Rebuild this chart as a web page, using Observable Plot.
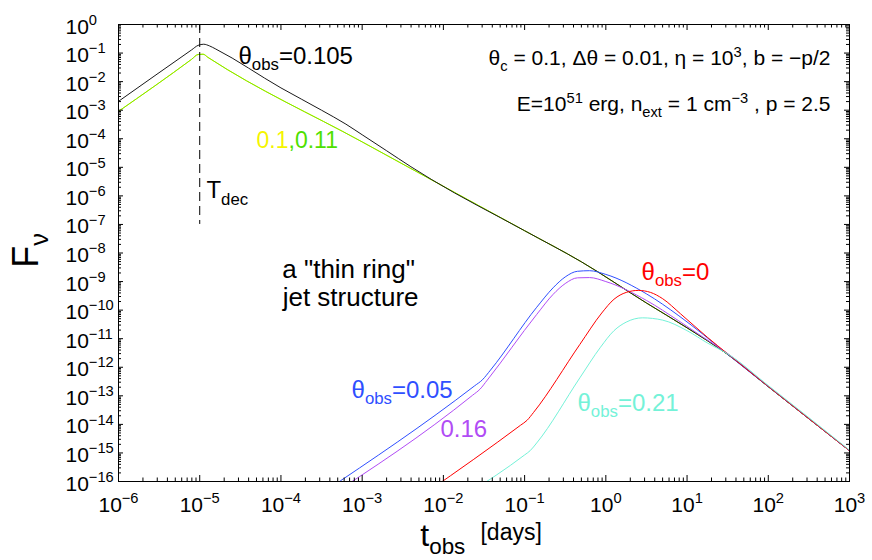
<!DOCTYPE html>
<html>
<head>
<meta charset="utf-8">
<script src="https://cdn.jsdelivr.net/npm/d3@7"></script>
<script src="https://cdn.jsdelivr.net/npm/@observablehq/plot@0.6"></script>
<style>
  body { margin: 0; background: white; }
  #chart svg { display: block; }
</style>
</head>
<body>
<div id="chart"></div>
<script>
// ---- data (t in days, F_nu arbitrary units) ----
const tBlack = [1e-6, 7.94e-6, 9.55e-6, 1.12e-5, 1.32e-5, 1.58e-5, 1e-4, 3.16e-4, 6.31e-4, 1e-3, 2.0e-3, 3.98e-3, 7.08e-3, 0.1, 0.501, 3.16, 10, 31.6, 100, 1000];
const fBlack = [2.04e-3, 0.129, 0.186, 0.204, 0.178, 0.138, 6.03e-3, 1e-3, 3.24e-4, 1.38e-4, 3.80e-5, 1.05e-5, 3.80e-6, 6.03e-8, 4.90e-9, 1.78e-10, 2.40e-11, 2.82e-12, 2.09e-13, 1.20e-15];

const tGreen = [1e-6, 7.94e-6, 9.55e-6, 1.10e-5, 1.26e-5, 1e-3, 0.1, 0.501, 3.16, 10, 31.6, 100, 1000];
const fGreen = [9.12e-4, 6.03e-2, 8.91e-2, 9.12e-2, 7.08e-2, 7.76e-5, 6.03e-8, 4.90e-9, 1.78e-10, 2.40e-11, 2.82e-12, 2.09e-13, 1.20e-15];

const tYellow = tGreen;
const fYellow = fGreen;

const tBlue = [3.16e-4, 2.40e-2, 3.02e-2, 3.80e-2, 0.141, 0.224, 0.316, 0.447, 0.631, 1, 3.16, 7.94, 15.8, 31.6, 100, 1000];
const fBlue = [3.80e-17, 2.19e-13, 3.63e-13, 7.94e-13, 1.26e-10, 6.03e-10, 1.45e-9, 2.29e-9, 2.40e-9, 1.78e-9, 3.72e-10, 6.31e-11, 1.41e-11, 2.82e-12, 2.09e-13, 1.20e-15];

const tPurple = [3.16e-4, 2.29e-2, 2.82e-2, 3.47e-2, 0.141, 0.224, 0.316, 0.447, 0.631, 1, 3.16, 7.94, 15.8, 31.6, 100, 1000];
const fPurple = [2.00e-17, 1.05e-13, 1.70e-13, 3.55e-13, 7.08e-11, 3.55e-10, 8.51e-10, 1.35e-9, 1.38e-9, 1e-9, 2.19e-10, 4.17e-11, 1.12e-11, 3.02e-12, 2.19e-13, 1.20e-15];

const tRed = [6.31e-3, 8.91e-2, 0.107, 0.129, 0.479, 0.891, 1.26, 1.78, 2.51, 3.55, 5.01, 8.32, 17.8, 31.6, 100, 1000];
const fRed = [4.27e-17, 9.33e-15, 1.38e-14, 2.63e-14, 6.31e-12, 7.94e-11, 2.40e-10, 4.17e-10, 4.90e-10, 4.17e-10, 2.51e-10, 7.41e-11, 1.12e-11, 2.95e-12, 2.14e-13, 1.20e-15];

const tCyan = [2.00e-2, 0.1, 0.117, 0.141, 0.479, 0.859, 1.26, 1.78, 2.82, 5.01, 10, 17.8, 31.6, 100, 1000];
const fCyan = [3.72e-17, 8.51e-16, 1.20e-15, 2.24e-15, 4.27e-13, 5.01e-12, 1.91e-11, 3.80e-11, 5.37e-11, 4.47e-11, 1.91e-11, 7.08e-12, 2.95e-12, 2.29e-13, 1.26e-15];

const seriesNames  = ["0.1", "0.11", "0.105", "0.05", "0.16", "0", "0.21"];
const seriesColors = ["#f5f500", "#7ae800", "#1a1a1a", "#2f4fff", "#b14cf5", "#ff0000", "#74f2d8"];
const seriesT = [tYellow, tGreen, tBlack, tBlue, tPurple, tRed, tCyan];
const seriesF = [fYellow, fGreen, fBlack, fBlue, fPurple, fRed, fCyan];

// axis ticks and labels
const xMajor = [1e-6, 1e-5, 1e-4, 1e-3, 1e-2, 1e-1, 1e0, 1e1, 1e2, 1e3];
const xTickLabels = ["10^{−6}", "10^{−5}", "10^{−4}", "10^{−3}", "10^{−2}", "10^{−1}", "10^{0}", "10^{1}", "10^{2}", "10^{3}"];
const yMajor = [1e0, 1e-1, 1e-2, 1e-3, 1e-4, 1e-5, 1e-6, 1e-7, 1e-8, 1e-9, 1e-10, 1e-11, 1e-12, 1e-13, 1e-14, 1e-15, 1e-16];
const yTickLabels = ["10^{0}", "10^{−1}", "10^{−2}", "10^{−3}", "10^{−4}", "10^{−5}", "10^{−6}", "10^{−7}", "10^{−8}", "10^{−9}", "10^{−10}", "10^{−11}", "10^{−12}", "10^{−13}", "10^{−14}", "10^{−15}", "10^{−16}"];
const minorMultipliers = [2, 3, 4, 5, 6, 7, 8, 9];

// annotations (position in data coordinates)
const labels = [
  {text: "θ_{obs}=0.105", x: 3.0e-5, y: 4.3e-2, color: "#000000", size: 24, anchor: "start"},
  {text: "0.1", x: 1.24e-4, y: 4.9e-5, color: "#f5f500", size: 23, anchor: "end"},
  {text: ",0.11", x: 1.24e-4, y: 4.9e-5, color: "#4ee000", size: 23, anchor: "start"},
  {text: "T_{dec}", x: 1.21e-5, y: 8.1e-7, color: "#000000", size: 24, anchor: "start"},
  {text: "θ_{c} = 0.1, Δθ = 0.01, η = 10^{3}, b = −p/2", x: 583, y: 3.67e-2, color: "#000000", size: 21, anchor: "end"},
  {text: "E=10^{51} erg, n_{ext} = 1 cm^{−3} , p = 2.5", x: 583, y: 9.0e-4, color: "#000000", size: 21, anchor: "end"},
  {text: "a \"thin ring\"", x: 6.8e-4, y: 1.38e-9, color: "#000000", size: 26, anchor: "middle"},
  {text: "jet structure", x: 7.2e-4, y: 1.34e-10, color: "#000000", size: 26, anchor: "middle"},
  {text: "θ_{obs}=0.05", x: 7.4e-4, y: 8.7e-14, color: "#2f4fff", size: 24, anchor: "start"},
  {text: "0.16", x: 9.2e-3, y: 3.5e-15, color: "#b14cf5", size: 24, anchor: "start"},
  {text: "θ_{obs}=0.21", x: 0.448, y: 3.05e-14, color: "#74f2d8", size: 24, anchor: "start"},
  {text: "θ_{obs}=0", x: 2.75, y: 1.18e-9, color: "#ff0000", size: 24, anchor: "start"}
];
const tDec = 1e-5;

// ---- build ----
const W = 872, H = 560, mL = 118, mR = 23, mT = 24, mB = 79;
const FW = W - mL - mR, FH = H - mT - mB;

const rows = [];
seriesT.forEach((ts, s) => ts.forEach((t, i) => rows.push({series: seriesNames[s], color: seriesColors[s], t, f: seriesF[s][i]})));

const decadesX = xMajor.slice(0, -1);
const decadesY = yMajor.slice(1);
const xMinor = decadesX.flatMap(d => minorMultipliers.map(m => d * m));
const yMinor = decadesY.flatMap(d => minorMultipliers.map(m => d * m));

const textMarks = ["start", "middle", "end"].map(a =>
  Plot.text(labels.filter(d => d.anchor === a), {
    x: "x", y: "y", text: "text", fill: "color", fontSize: "size",
    textAnchor: a, lineAnchor: "bottom"
  })
);

const chart = Plot.plot({
  width: W, height: H,
  marginLeft: mL, marginRight: mR, marginTop: mT, marginBottom: mB,
  style: {fontFamily: "'Liberation Sans', Arial, Helvetica, sans-serif", background: "white", overflow: "visible"},
  x: {type: "log", domain: [1e-6, 1e3], axis: null},
  y: {type: "log", domain: [1e-16, 1], axis: null},
  color: {type: "identity"},
  marks: [
    Plot.line(rows, {x: "t", y: "f", z: "series", stroke: "color", strokeWidth: 1, curve: "monotone-x", clip: true}),
    Plot.ruleX([tDec], {y1: 1, y2: 1e-7, stroke: "#000", strokeWidth: 1, strokeDasharray: "9,5"}),
    // inward ticks, all four sides
    Plot.tickX(xMajor, {x: d => d, insetTop: FH - 6, stroke: "#000"}),
    Plot.tickX(xMajor, {x: d => d, insetBottom: FH - 6, stroke: "#000"}),
    Plot.tickX(xMinor, {x: d => d, insetTop: FH - 3.5, stroke: "#000"}),
    Plot.tickX(xMinor, {x: d => d, insetBottom: FH - 3.5, stroke: "#000"}),
    Plot.tickY(yMajor, {y: d => d, insetRight: FW - 5, stroke: "#000"}),
    Plot.tickY(yMajor, {y: d => d, insetLeft: FW - 5, stroke: "#000"}),
    Plot.tickY(yMinor, {y: d => d, insetRight: FW - 3, stroke: "#000"}),
    Plot.tickY(yMinor, {y: d => d, insetLeft: FW - 3, stroke: "#000"}),
    Plot.frame({stroke: "#000", strokeWidth: 1}),
    // tick labels
    Plot.text(xMajor, {x: d => d, text: (d, i) => xTickLabels[i], frameAnchor: "bottom", dy: 30, textAnchor: "middle", lineAnchor: "bottom", fontSize: 21, fill: "#000"}),
    Plot.text(yMajor, {y: d => d, text: (d, i) => yTickLabels[i], frameAnchor: "left", dx: -53, dy: 9, textAnchor: "start", lineAnchor: "bottom", fontSize: 21, fill: "#000"}),
    // axis titles
    Plot.text([{label: "F_{ν}", y: 1.22e-8}], {y: "y", text: "label", frameAnchor: "left", dx: -92, rotate: -90, textAnchor: "middle", lineAnchor: "middle", fontSize: 36, fill: "#000"}),
    Plot.text([{label: "t_{obs}", x: 5.2e-3}], {x: "x", text: "label", frameAnchor: "bottom", dy: 64, textAnchor: "start", lineAnchor: "bottom", fontSize: 32, fill: "#000"}),
    Plot.text([{label: "[days]", x: 2.86e-2}], {x: "x", text: "label", frameAnchor: "bottom", dy: 58, textAnchor: "start", lineAnchor: "bottom", fontSize: 23, fill: "#000"}),
    ...textMarks
  ]
});

document.getElementById("chart").appendChild(chart);

// turn ^{..} / _{..} markup into real superscript / subscript tspans
function richify(root) {
  const NS = "http://www.w3.org/2000/svg";
  root.querySelectorAll("text").forEach(t => {
    const s = t.textContent;
    if (!/[\^_]\{/.test(s)) return;
    const base = parseFloat(getComputedStyle(t).fontSize) || 16;
    const parts = [];
    const re = /([\^_])\{([^}]*)\}/g;
    let last = 0, m;
    while ((m = re.exec(s))) {
      if (m.index > last) parts.push({k: "", s: s.slice(last, m.index)});
      parts.push({k: m[1], s: m[2]});
      last = re.lastIndex;
    }
    if (last < s.length) parts.push({k: "", s: s.slice(last)});
    while (t.firstChild) t.removeChild(t.firstChild);
    let shift = 0;
    for (const p of parts) {
      const ts = document.createElementNS(NS, "tspan");
      const target = p.k === "^" ? -0.42 * base : p.k === "_" ? 0.28 * base : 0;
      if (target !== shift) ts.setAttribute("dy", (target - shift).toFixed(2));
      shift = target;
      if (p.k) ts.setAttribute("font-size", (0.7 * base).toFixed(2));
      ts.textContent = p.s;
      t.appendChild(ts);
    }
  });
}
richify(chart);
</script>
</body>
</html>
